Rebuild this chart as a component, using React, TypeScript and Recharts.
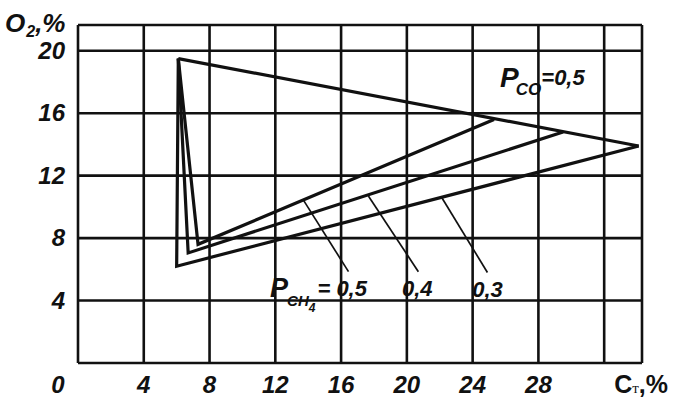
import { LineChart, Line, XAxis, YAxis, CartesianGrid, ReferenceDot } from 'recharts'

// P_CO = 0,5 line (top edge)
const coLine = [
  { x: 6.1, y: 19.5 },
  { x: 34.1, y: 13.9 },
]

// P_CH4 curves
const ch4Half = [
  { x: 6.1, y: 19.5 },
  { x: 7.3, y: 7.6 },
  { x: 25.3, y: 15.6 },
]
const ch4Four = [
  { x: 6.1, y: 19.5 },
  { x: 6.7, y: 7.05 },
  { x: 29.5, y: 14.8 },
]
const ch4Three = [
  { x: 6.1, y: 19.5 },
  { x: 6.0, y: 6.2 },
  { x: 34.1, y: 13.9 },
]

// thin leader lines to the labels
const leadHalf = [
  { x: 13.7, y: 10.45 },
  { x: 16.45, y: 5.85 },
]
const leadFour = [
  { x: 17.66, y: 10.7 },
  { x: 20.7, y: 5.85 },
]
const leadThree = [
  { x: 22.12, y: 10.6 },
  { x: 24.9, y: 5.8 },
]

const xTicks = [0, 4, 8, 12, 16, 20, 24, 28, 32, 34.3]
const yTicks = [0, 4, 8, 12, 16, 20, 21.65]

const font = "'Liberation Sans', Arial, sans-serif"
const txt = {
  fontFamily: font,
  fontWeight: 700,
  fontStyle: 'italic' as const,
  fill: '#111',
}

const XTick = ({ x, y, payload }: any) => {
  const v = payload.value
  if (v > 32) return <g />
  if (v === 32) {
    // axis title sits in place of the last label
    return (
      <text x={x + 10} y={y + 30} {...txt} fontSize={25} fontStyle="normal">
        C
        <tspan fontFamily="'Liberation Serif', serif" fontSize={15} fontWeight={400}>
          т
        </tspan>
        ,%
      </text>
    )
  }
  return (
    <text x={v === 0 ? x - 20 : x} y={y + 30} textAnchor="middle" {...txt} fontSize={24}>
      {v}
    </text>
  )
}

const YTick = ({ x, y, payload }: any) => {
  const v = payload.value
  if (v === 0) return <g />
  if (v > 20) {
    return (
      <text x={x - 73} y={y + 7} {...txt} fontSize={26}>
        O
        <tspan fontSize={16} dy={5} dx={1}>2</tspan>
        <tspan dy={-5}>,%</tspan>
      </text>
    )
  }
  return (
    <text x={x - 13} y={y + 8} textAnchor="end" {...txt} fontSize={24}>
      {v}
    </text>
  )
}

const Label = ({ cx, cy, children }: any) => (
  <text x={cx} y={cy} {...txt}>
    {children}
  </text>
)

export default function App() {
  const main = { stroke: '#111', strokeWidth: 3.2, dot: false, isAnimationActive: false, type: 'linear' as const }
  const thin = { stroke: '#111', strokeWidth: 1.7, dot: false, isAnimationActive: false, type: 'linear' as const }
  return (
    <div style={{ position: 'absolute', left: 0, top: 0, background: '#fff' }}>
      <LineChart width={677} height={403} margin={{ top: 25, right: 35, left: 0, bottom: 0 }}>
        <CartesianGrid stroke="#111" strokeWidth={2.6} />
        <XAxis
          type="number"
          dataKey="x"
          domain={[0, 34.3]}
          ticks={xTicks}
          height={40}
          axisLine={false}
          tickLine={false}
          tickSize={0}
          tickMargin={0}
          tick={(p: any) => <XTick {...p} />}
          interval={0}
          allowDataOverflow
        />
        <YAxis
          type="number"
          dataKey="y"
          domain={[0, 21.65]}
          ticks={yTicks}
          width={78}
          axisLine={false}
          tickLine={false}
          tickSize={0}
          tickMargin={0}
          tick={(p: any) => <YTick {...p} />}
          interval={0}
          allowDataOverflow
        />
        <Line data={coLine} dataKey="y" {...main} />
        <Line data={ch4Half} dataKey="y" {...main} />
        <Line data={ch4Four} dataKey="y" {...main} />
        <Line data={ch4Three} dataKey="y" {...main} />
        <Line data={leadHalf} dataKey="y" {...thin} />
        <Line data={leadFour} dataKey="y" {...thin} />
        <Line data={leadThree} dataKey="y" {...thin} />

        <ReferenceDot
          x={25.67}
          y={17.68}
          r={0}
          shape={(p: any) => (
            <Label cx={p.cx} cy={p.cy}>
              <tspan fontSize={28}>P</tspan>
              <tspan fontSize={17} dy={8} dx={-3}>CO</tspan>
              <tspan fontSize={22} dy={-10}>=0,5</tspan>
            </Label>
          )}
        />
        <ReferenceDot
          x={11.68}
          y={4.23}
          r={0}
          shape={(p: any) => (
            <Label cx={p.cx} cy={p.cy}>
              <tspan fontSize={27}>P</tspan>
              <tspan fontSize={15} dy={9} dx={-1}>CH</tspan>
              <tspan fontSize={12} dy={6}>4</tspan>
              <tspan fontSize={22} dy={-16} dx={2}>= 0,5</tspan>
            </Label>
          )}
        />
        <ReferenceDot
          x={19.7}
          y={4.3}
          r={0}
          shape={(p: any) => (
            <Label cx={p.cx} cy={p.cy}>
              <tspan fontSize={22}>0,4</tspan>
            </Label>
          )}
        />
        <ReferenceDot
          x={23.97}
          y={4.25}
          r={0}
          shape={(p: any) => (
            <Label cx={p.cx} cy={p.cy}>
              <tspan fontSize={22}>0,3</tspan>
            </Label>
          )}
        />
      </LineChart>
    </div>
  )
}
